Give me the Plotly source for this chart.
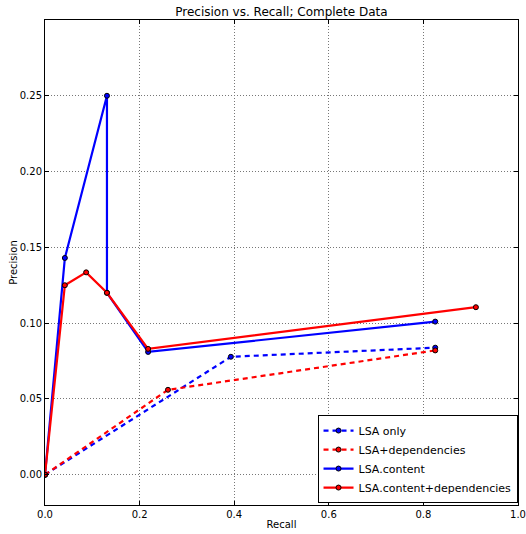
import plotly.graph_objects as go

lsa_x = [0.0, 0.393, 0.825]
lsa_y = [0.0, 0.0778, 0.0838]
lsadep_x = [0.0, 0.26, 0.825]
lsadep_y = [0.0, 0.056, 0.082]
cont_x = [0.0, 0.042, 0.131, 0.131, 0.218, 0.825]
cont_y = [0.0, 0.143, 0.25, 0.12, 0.081, 0.101]
contdep_x = [0.0, 0.042, 0.087, 0.131, 0.218, 0.911]
contdep_y = [0.0, 0.125, 0.1335, 0.12, 0.083, 0.1105]

x_ticks = [0.0, 0.2, 0.4, 0.6, 0.8, 1.0]
y_ticks = [0.0, 0.05, 0.10, 0.15, 0.20, 0.25]

font = "DejaVu Sans"
fig = go.Figure()

def add(x, y, color, dash, name):
    fig.add_trace(go.Scatter(
        x=x, y=y, mode="lines+markers", name=name,
        line=dict(color=color, width=2.2, dash=dash),
        marker=dict(color=color, size=5, line=dict(color="black", width=1)),
    ))

add(lsa_x, lsa_y, "blue", "5px,4px", "LSA only")
add(lsadep_x, lsadep_y, "red", "5px,4px", "LSA+dependencies")
add(cont_x, cont_y, "blue", "solid", "LSA.content")
add(contdep_x, contdep_y, "red", "solid", "LSA.content+dependencies")

axis_common = dict(
    showline=True, linecolor="black", linewidth=1, mirror="allticks",
    ticks="inside", ticklen=4, tickcolor="black", automargin=False,
    showgrid=True, gridcolor="#777777", griddash="1px,2px", gridwidth=1,
    zeroline=False, tickfont=dict(family=font, size=10, color="black"),
)

fig.update_layout(
    width=526, height=534,
    margin=dict(l=45, r=8, t=20, b=29),
    paper_bgcolor="white", plot_bgcolor="white",
    font=dict(family=font, size=10, color="black"),
    title=dict(text="Precision vs. Recall; Complete Data", x=0.535, xanchor="center",
               y=0.977, yanchor="middle", font=dict(family=font, size=12, color="black")),
    xaxis=dict(range=[0, 1.0], tickvals=x_ticks, ticktext=[f"{v:.1f}" for v in x_ticks],
               title=dict(text="Recall", font=dict(family=font, size=10), standoff=1),
               **axis_common),
    yaxis=dict(range=[-0.02, 0.30], tickvals=y_ticks, ticktext=[f"{v:.2f}" for v in y_ticks],
               title=dict(text="Precision", font=dict(family=font, size=10), standoff=0),
               **axis_common),
    legend=dict(x=0.999, y=0.004, xanchor="right", yanchor="bottom",
                bordercolor="black", borderwidth=1, bgcolor="white",
                font=dict(family=font, size=11, color="black"),
                tracegroupgap=0, itemwidth=30),
    showlegend=True,
)

fig.write_html("out.html")
